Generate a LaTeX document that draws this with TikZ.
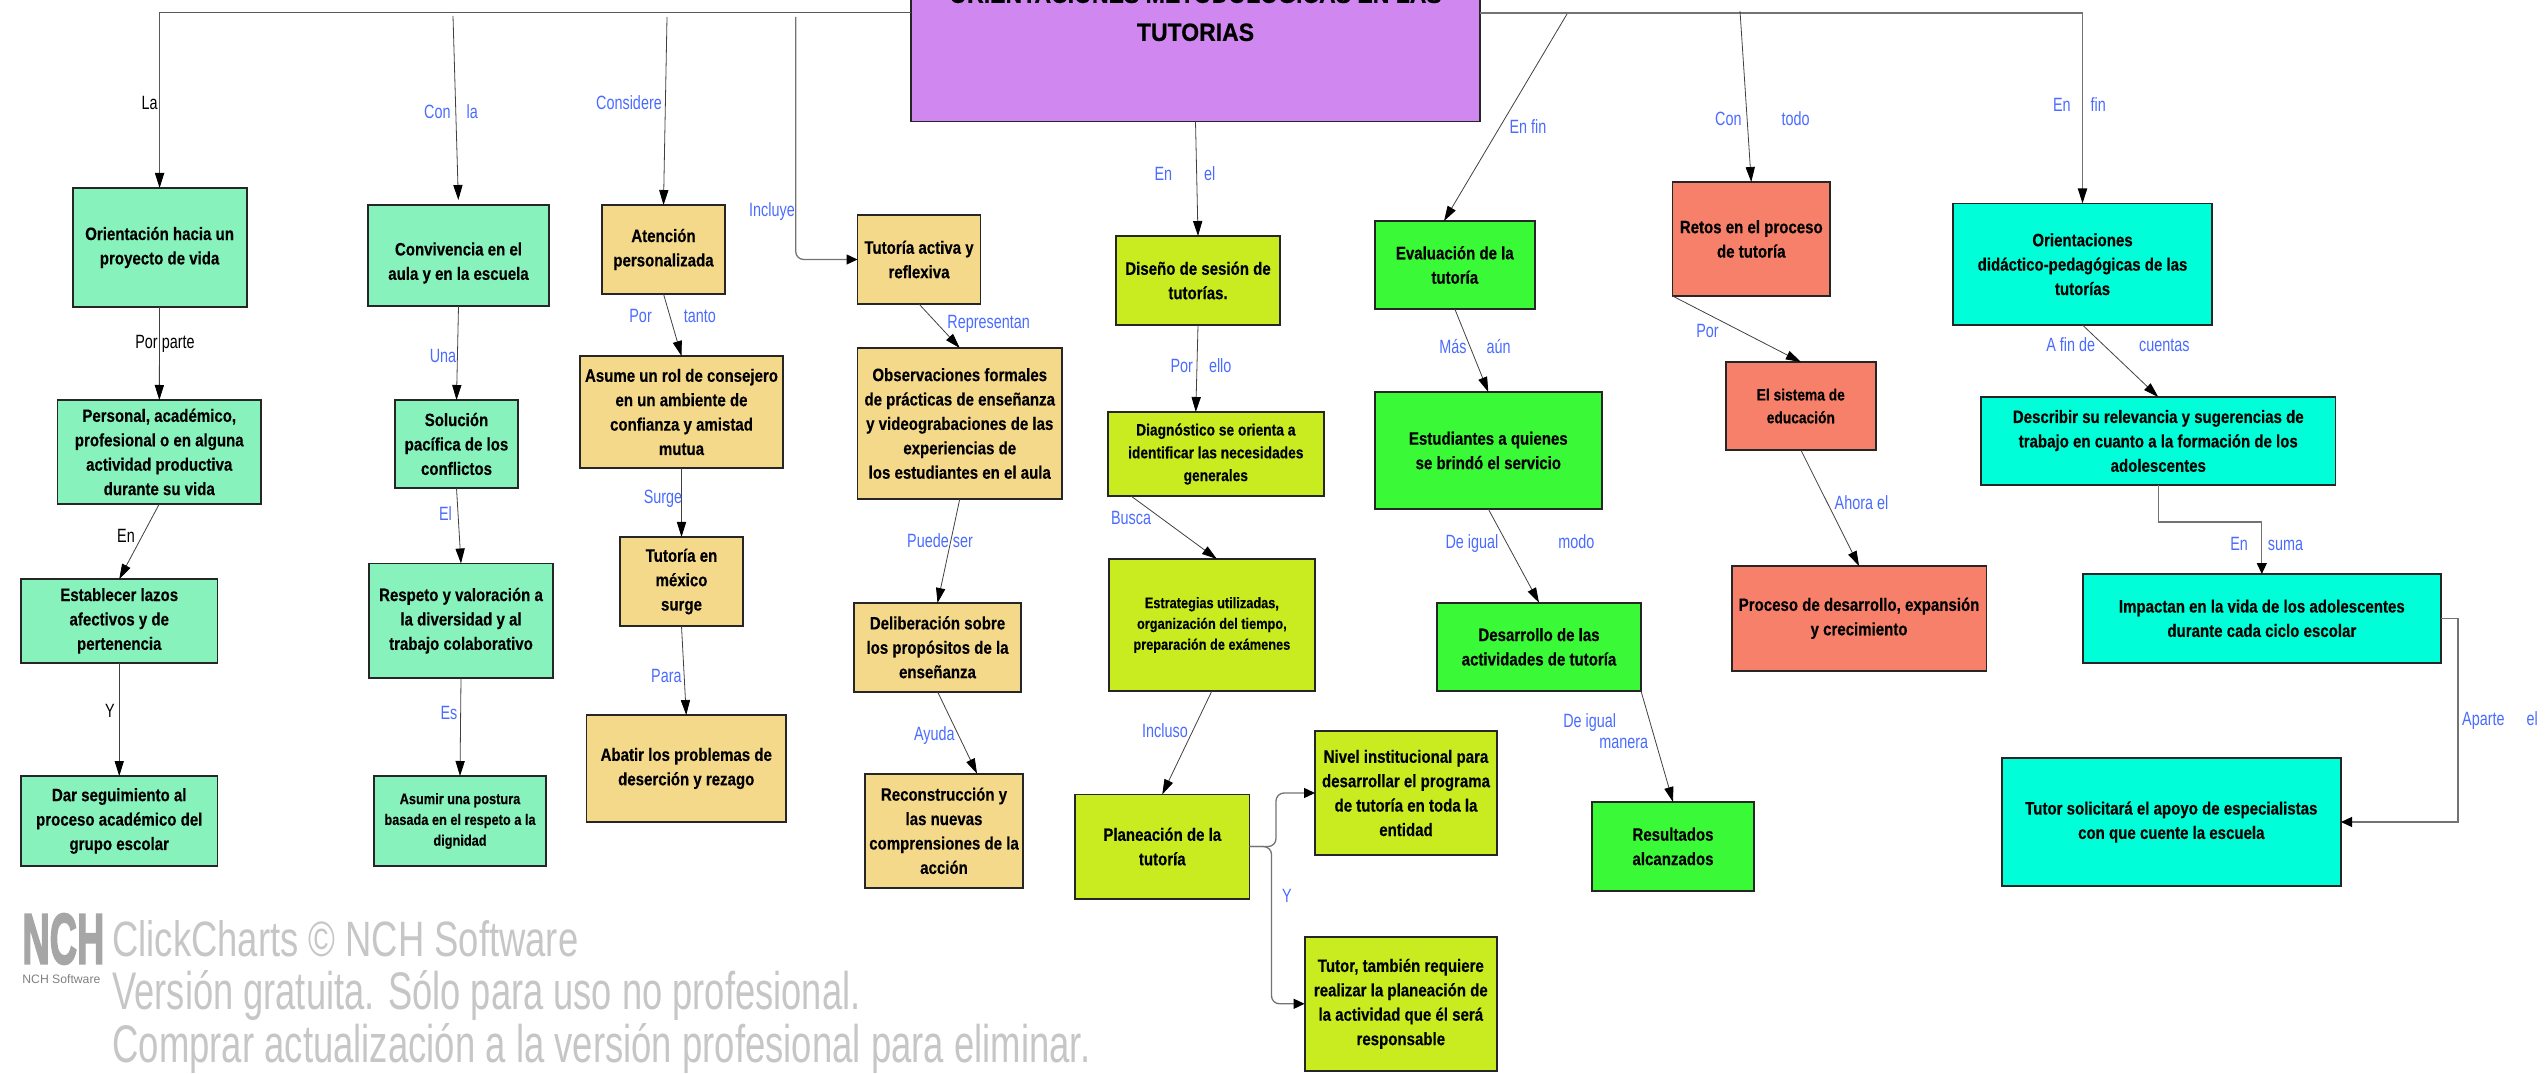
\documentclass[tikz,border=0pt]{standalone}
\usepackage{fontspec}
\usepackage{graphicx}
\usetikzlibrary{arrows.meta}
\setmainfont{Liberation Sans}
\newfontfamily\nar[FakeStretch=0.84,FakeBold=0.35]{Liberation Sans}
\newfontfamily\lab[FakeStretch=0.75]{Liberation Sans}
\newfontfamily\ttl[FakeStretch=0.92,FakeBold=0.5]{Liberation Sans}
\newfontfamily\logof[FakeBold=3]{Liberation Sans}
\definecolor{mint}{HTML}{88F2BC}
\definecolor{sand}{HTML}{F5D98B}
\definecolor{purp}{HTML}{D088F0}
\definecolor{lime}{HTML}{C8EC20}
\definecolor{grn}{HTML}{3AF937}
\definecolor{salm}{HTML}{F6806A}
\definecolor{cyn}{HTML}{00FFD8}
\definecolor{lblue}{HTML}{4A6BFF}
\definecolor{wm}{HTML}{C6C6C6}
\tikzset{
  box/.style={draw=black!85,line width=0.9pt,inner sep=0pt,outer sep=0pt,align=center,
    font=\nar\bfseries\fontsize{8.95}{12.2}\selectfont},
  smallbox/.style={font=\nar\bfseries\fontsize{7.6}{10.4}\selectfont},
  midbox/.style={font=\nar\bfseries\fontsize{8.2}{11.4}\selectfont},
  conn/.style={draw=black!75,line width=0.4pt,-{Triangle[length=7.5pt,width=4.6pt,color=black,fill=black]}},
  elbow/.style={draw=black!55,line width=0.65pt,-{Triangle[length=5.5pt,width=5pt,color=black,fill=black]}},
  hubline/.style={draw=black!55,line width=0.65pt,-{Triangle[length=7.5pt,width=4.6pt,color=black,fill=black]}},
  lbl/.style={text=lblue,inner sep=0pt,align=center,font=\lab\fontsize{9.6}{10.6}\selectfont},
  lbk/.style={lbl,text=black},
  wmark/.style={text=wm,inner sep=0pt,anchor=west}
}
\newcommand\bx[7]{\node[box,fill=#6,minimum width={(#4-#2)*0.5pt},minimum height={(#5-#3)*0.5pt}] (#1) at ({(#2+#4)/2},{(#3+#5)/2}) {#7};}
\newcommand\bxs[8]{\node[box,#8,fill=#6,minimum width={(#4-#2)*0.5pt},minimum height={(#5-#3)*0.5pt}] (#1) at ({(#2+#4)/2},{(#3+#5)/2}) {#7};}
\newcommand\lb[5][lbl]{\node[#1] (#2) at (#3,#4) {#5};}
\begin{document}
\begin{tikzpicture}[x=0.5pt,y=-0.5pt]
\useasboundingbox (0,0) rectangle (2547,1074);
\clip (0,0) rectangle (2547,1074);
% free ends and hub
\coordinate (hub) at (1195,13);
\coordinate (cConv) at (453,16);
\coordinate (cAten) at (667,17);
\coordinate (cActi) at (795.7,17);
\coordinate (cEval) at (1567,14);
\coordinate (cReto) at (1740,11);
% central
\node[box,fill=purp,minimum width=284.5pt,minimum height=108.3pt,font=\ttl\bfseries\fontsize{12.5}{19}\selectfont] (central) at (1195.5,13.3) {ORIENTACIONES METODOLOGICAS EN LAS\\TUTORIAS};
% column 1
\bx{orient}{72.6}{188}{246.6}{307}{mint}{Orientación hacia un\\proyecto de vida}
\bx{perso}{57.5}{400}{261}{504}{mint}{Personal, académico,\\profesional o en alguna\\actividad productiva\\durante su vida}
\bx{estab}{21}{579}{217.5}{662.6}{mint}{Establecer lazos\\afectivos y de\\pertenencia}
\bx{dar}{21}{776}{217.5}{866}{mint}{Dar seguimiento al\\proceso académico del\\grupo escolar}
% column 2
\bx{convi}{368}{205}{549}{306}{mint}{\rule{0pt}{14pt}Convivencia en el\\aula y en la escuela}
\bx{soluc}{395}{400}{518}{488}{mint}{Solución\\pacífica de los\\conflictos}
\bx{respe}{369}{563.5}{553}{678}{mint}{Respeto y valoración a\\la diversidad y al\\trabajo colaborativo}
\bxs{asumi}{374}{776}{546}{866}{mint}{Asumir una postura\\basada en el respeto a la\\dignidad}{smallbox}
% column 3
\bx{atenc}{602}{205}{725}{294}{sand}{Atención\\personalizada}
\bx{asume}{580}{356}{783}{468}{sand}{Asume un rol de consejero\\en un ambiente de\\confianza y amistad\\mutua}
\bx{tumex}{620}{537}{743}{626}{sand}{Tutoría en\\méxico\\surge}
\bx{abati}{586.5}{715}{786}{822}{sand}{Abatir los problemas de\\deserción y rezago}
% column 4
\bx{activ}{857.5}{215}{980.5}{304}{sand}{Tutoría activa y\\reflexiva}
\bx{obser}{857.5}{348}{1062}{499}{sand}{Observaciones formales\\de prácticas de enseñanza\\y videograbaciones de las\\experiencias de\\los estudiantes en el aula}
\bx{delib}{854}{603}{1021}{691.6}{sand}{Deliberación sobre\\los propósitos de la\\enseñanza}
\bx{recon}{865}{773.6}{1023}{888}{sand}{Reconstrucción y\\las nuevas\\comprensiones de la\\acción}
% column 5
\bx{disen}{1116}{236}{1280}{325}{lime}{Diseño de sesión de\\tutorías.}
\bxs{diagn}{1108}{412}{1323.6}{496}{lime}{Diagnóstico se orienta a\\identificar las necesidades\\generales}{midbox}
\bxs{estra}{1108.7}{559}{1315}{691}{lime}{Estrategias utilizadas,\\organización del tiempo,\\preparación de exámenes}{smallbox}
\bx{plane}{1075}{794.4}{1249.5}{898.7}{lime}{Planeación de la\\tutoría}
\bx{nivel}{1315}{731}{1497}{855}{lime}{Nivel institucional para\\desarrollar el programa\\de tutoría en toda la\\entidad}
\bx{tutor}{1304.6}{937}{1497}{1070.6}{lime}{Tutor, también requiere\\realizar la planeación de\\la actividad que él será\\responsable}
% column 6
\bx{evalu}{1374.6}{221}{1535}{309}{grn}{Evaluación de la\\tutoría}
\bx{estud}{1374.6}{392}{1602}{509}{grn}{Estudiantes a quienes\\se brindó el servicio}
\bx{desar}{1437}{602.7}{1641}{691}{grn}{Desarrollo de las\\actividades de tutoría}
\bx{resul}{1592}{802}{1754}{891}{grn}{Resultados\\alcanzados}
% column 7
\bx{retos}{1672.5}{182}{1830}{296}{salm}{Retos en el proceso\\de tutoría}
\bxs{siste}{1725.6}{362}{1876}{450}{salm}{El sistema de\\educación}{midbox}
\bx{proce}{1731.6}{566}{1986.5}{670.7}{salm}{Proceso de desarrollo, expansión\\y crecimiento}
% column 8
\bx{ordid}{1953}{203.5}{2212}{325}{cyn}{Orientaciones\\didáctico-pedagógicas de las\\tutorías}
\bx{descr}{1981}{397}{2335.5}{485}{cyn}{Describir su relevancia y sugerencias de\\trabajo en cuanto a la formación de los\\adolescentes}
\bx{impac}{2083}{574}{2440.6}{662.7}{cyn}{Impactan en la vida de los adolescentes\\durante cada ciclo escolar}
\bx{tusol}{2001.6}{758}{2341}{886}{cyn}{Tutor solicitará el apoyo de especialistas\\con que cuente la escuela}
% connectors
\draw[hubline,line width=0.5pt,draw=black!65] (central.west |- hub) -| (orient.north);
\draw[hubline] (central.east |- hub) -| (ordid.north);
\draw[conn] (orient) -- (perso);
\draw[conn] (perso.south) -- (estab.north);
\draw[conn] (estab) -- (dar);
\draw[conn,shorten >=2.5pt] (cConv) -- (convi.north);
\draw[conn] (convi.south) -- (soluc.north);
\draw[conn] (soluc.south) -- (respe.north);
\draw[conn] (respe.south) -- (asumi.north);
\draw[conn] (cAten) -- (atenc.north);
\draw[conn] (atenc.south) -- (asume.north);
\draw[conn] (asume.south) -- (tumex.north);
\draw[conn] (tumex.south) -- (abati.north);
\draw[elbow,rounded corners=4pt] (cActi) |- (activ.west);
\draw[conn] (activ.south) -- (obser.north);
\draw[conn] (obser.south) -- (delib.north);
\draw[conn] (delib.south) -- ([xshift=16.5pt]recon.north);
\draw[conn] (central.south) -- (disen.north);
\draw[conn] (disen.south) -- ([xshift=-10pt]diagn.north);
\draw[conn] ([xshift=-42.4pt]diagn.south) -- ([xshift=2.5pt]estra.north);
\draw[conn] (estra.south) -- (plane.north);
\draw[elbow,rounded corners=4pt] (plane.east) -- ++(13.25pt,0) |- (nivel.west);
\draw[elbow,rounded corners=4pt] (plane.east) -- ++(11pt,0) |- (tutor.west);
\draw[conn] (cEval) -- ([xshift=-5.4pt]evalu.north);
\draw[conn] (evalu.south) -- (estud.north);
\draw[conn] (estud.south) -- (desar.north);
\draw[conn] (desar.south east) -- (resul.north);
\draw[conn] (cReto) -- (retos.north);
\draw[conn] (retos.south west) -- (siste.north);
\draw[conn] (siste.south) -- (proce.north);
\draw[conn] (ordid.south) -- (descr.north);
\draw[elbow] (descr.south) -- ++(0,-18.5pt) -| (impac.north);
\draw[elbow] (impac.east) -- ++(8.7pt,0) |- (tusol.east);
% labels
\lb[lbk]{lLa}{149.6}{103}{La}
\lb[lbk]{lPorp}{165}{344}{Por parte}
\lb[lbk]{lEn}{126}{535.5}{En}
\lb[lbk]{lY}{110}{711}{Y}
\lb{lConla}{451}{112}{Con \hspace{6pt}la}
\lb{lCons}{629}{103}{Considere}
\lb{lIncl}{772}{212}{Incluye}
\lb{lPort}{672.6}{316}{Por \hspace{14pt}tanto}
\lb{lUna}{443}{356}{Una}
\lb{lSurg}{663}{499}{Surge}
\lb{lEl}{445.5}{514}{El}
\lb{lEs}{449}{712.7}{Es}
\lb{lPara}{666.4}{675.6}{Para}
\lb{lPued}{940}{541}{Puede ser}
\lb{lAyud}{934.4}{735.5}{Ayuda}
\lb{lRepr}{988.7}{324}{Representan}
\lb{lEnel}{1185}{174}{En \hspace{14pt}el}
\lb{lEnfi}{1528}{126.4}{En fin}
\lb{lPore}{1201}{366}{Por \hspace{6pt}ello}
\lb{lMas}{1475}{347}{Más \hspace{8pt}aún}
\lb{lBusc}{1131}{518}{Busca}
\lb{lIgum}{1520}{544}{De igual \hspace{28pt}modo}
\lb{lIncs}{1165}{731}{Incluso}
\node[lbl,align=right] (lIgua) at (1605.7,731) {De igual\hspace{16pt}\null\\manera};
\lb{lYb}{1287}{896}{Y}
\lb{lCont}{1762.4}{119}{Con \hspace{18pt}todo}
\lb{lEnf2}{2079.5}{105}{En \hspace{8pt}fin}
\lb{lPor}{1707.5}{331}{Por}
\lb{lAfin}{2118}{345}{A fin de \hspace{20pt}cuentas}
\lb{lAhor}{1861.5}{503}{Ahora el}
\lb{lEnsu}{2266.7}{543.7}{En \hspace{8pt}suma}
\lb{lApar}{2500}{721}{Aparte \hspace{9pt}el}
% watermark
\node[wmark,text=black!35] (nchlogo) at (22,939) {\resizebox{41pt}{25pt}{\logof\bfseries NCH}};
\node[wmark,text=black!50] (nchsoft) at (22,979) {\resizebox{39pt}{!}{NCH Software}};
\node[wmark] (wm1) at (112,938.5) {\resizebox{233pt}{18pt}{ClickCharts © NCH Software}};
\node[wmark] (wm2) at (112,995) {\resizebox{374pt}{19.5pt}{Versión gratuita. Sólo para uso no profesional.}};
\node[wmark] (wm3) at (112,1048) {\resizebox{489pt}{19.5pt}{Comprar actualización a la versión profesional para eliminar.}};
\end{tikzpicture}
\end{document}
